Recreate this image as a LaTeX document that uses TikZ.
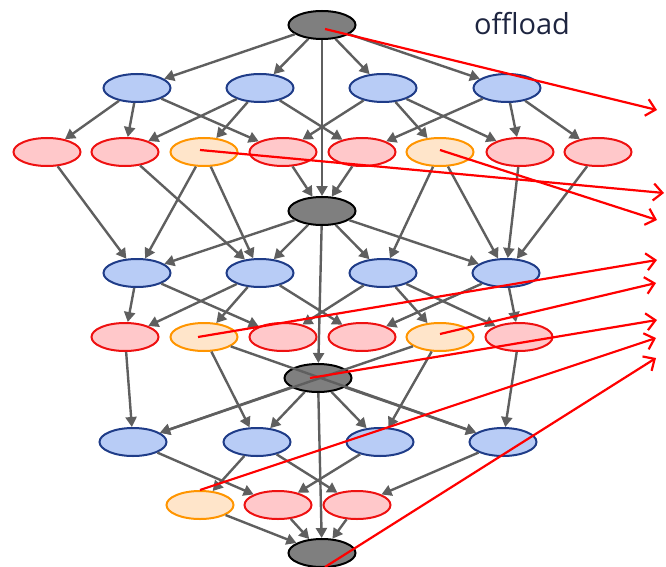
\documentclass[tikz,border=0pt]{standalone}
\usepackage{fontspec}
\newfontfamily\labelfont{Open Sans}
\usetikzlibrary{arrows.meta,shapes.geometric}
\definecolor{gfill}{HTML}{7F7F7F}
\definecolor{bfill}{HTML}{B8CCF6}
\definecolor{bdraw}{HTML}{1F3C88}
\definecolor{rfill}{HTML}{FFC8CA}
\definecolor{rdraw}{HTML}{EE1111}
\definecolor{ofill}{HTML}{FFE5CA}
\definecolor{odraw}{HTML}{FF9500}
\definecolor{egray}{HTML}{5F5F5F}
\definecolor{txt}{HTML}{1E2540}
\begin{document}
\begin{tikzpicture}[x=1pt,y=-1pt,
  nd/.style={ellipse, minimum width=67pt, minimum height=28pt, inner sep=0pt, line width=2pt},
  gnode/.style={nd, draw=black, fill=gfill},
  bnode/.style={nd, draw=bdraw, fill=bfill},
  rnode/.style={nd, draw=rdraw, fill=rfill},
  onode/.style={nd, draw=odraw, fill=ofill},
  edge/.style={draw=egray, line width=2.4pt, -{Triangle[length=10pt,width=11pt]}},
  offl/.style={draw=red, line width=2.2pt, -{Straight Barb[length=9pt,width=17pt,line width=2.2pt]}}
]
\useasboundingbox (0,0) rectangle (666,567);
% level 0
\node[gnode] (g0) at (322,25) {};
\node[bnode] (a1) at (137,88) {};
\node[bnode] (a2) at (260,88) {};
\node[bnode] (a3) at (383,88) {};
\node[bnode] (a4) at (507,88) {};
\node[rnode] (p1) at (47,152) {};
\node[rnode] (p2) at (125,152) {};
\node[onode] (p3) at (204,152) {};
\node[rnode] (p4) at (283,152) {};
\node[rnode] (p5) at (362,152) {};
\node[onode] (p6) at (440,152) {};
\node[rnode] (p7) at (520,152) {};
\node[rnode] (p8) at (598,152) {};
% level 1
\node[gnode] (g1) at (322,211) {};
\node[bnode] (c1) at (137,273) {};
\node[bnode] (c2) at (260,273) {};
\node[bnode] (c3) at (383,273) {};
\node[bnode] (c4) at (506,273) {};
\node[rnode] (q1) at (125,337) {};
\node[onode] (q2) at (204,337) {};
\node[rnode] (q3) at (283,337) {};
\node[rnode] (q4) at (362,337) {};
\node[onode] (q5) at (440,337) {};
\node[rnode] (q6) at (519,337) {};
% level 2
\node[gnode] (g2) at (318,378) {};
\node[bnode] (d1) at (133,442) {};
\node[bnode] (d2) at (257,442) {};
\node[bnode] (d3) at (380,442) {};
\node[bnode] (d4) at (503,442) {};
\node[onode] (s1) at (200,505) {};
\node[rnode] (s2) at (278,505) {};
\node[rnode] (s3) at (357,505) {};
% level 3
\node[gnode] (g3) at (322,553) {};

\node[text=txt, font=\labelfont\fontsize{29}{31}\selectfont] (lbl) at (522,24) {offload};

% edges level 0
\foreach \t in {a1,a2,a3,a4,g1} \draw[edge] (g0) -- (\t);
\foreach \s/\t in {a1/p1,a1/p2,a1/p4,a2/p2,a2/p3,a2/p5,a3/p4,a3/p6,a3/p7,a4/p5,a4/p7,a4/p8,
  p1/c1,p2/c2,p3/c1,p3/c2,p4/g1,p5/g1,p6/c3,p6/c4,p7/c4,p8/c4} \draw[edge] (\s) -- (\t);
% edges level 1
\foreach \t in {c1,c2,c3,c4,g2} \draw[edge] (g1) -- (\t);
\foreach \s/\t in {c1/q1,c1/q3,c2/q1,c2/q2,c2/q4,c3/q3,c3/q5,c3/q6,c4/q4,c4/q6,
  q1/d1,q2/d2,q2/d4,q5/d1,q5/d3,q6/d4} \draw[edge] (\s) -- (\t);
% edges level 2
\foreach \t in {d1,d2,d3,d4,g3} \draw[edge] (g2) -- (\t);
\foreach \s/\t in {d1/s2,d2/s1,d2/s3,d3/s2,d4/s3,s1/g3,s2/g3,s3/g3} \draw[edge] (\s) -- (\t);

% offload arrows
\coordinate (e1) at (657,110);
\coordinate (e2) at (664,193);
\coordinate (e3) at (657,220);
\coordinate (e4) at (657,260);
\coordinate (e5) at (656,283);
\coordinate (e6) at (657,320);
\coordinate (e7) at (656,338);
\coordinate (e8) at (656,358);
\draw[offl] ([shift={(3,4)}]g0.center) -- (e1);
\draw[offl] ([shift={(-4,-2)}]p3.center) -- (e2);
\draw[offl] ([shift={(0,-2)}]p6.center) -- (e3);
\draw[offl] ([shift={(-6,0)}]q2.center) -- (e4);
\draw[offl] ([shift={(0,-3)}]q5.center) -- (e5);
\draw[offl] ([shift={(-8,0)}]g2.center) -- (e6);
\draw[offl] (s1.north) -- (e7);
\draw[offl] ([shift={(3,14)}]g3.center) -- (e8);
\end{tikzpicture}
\end{document}
